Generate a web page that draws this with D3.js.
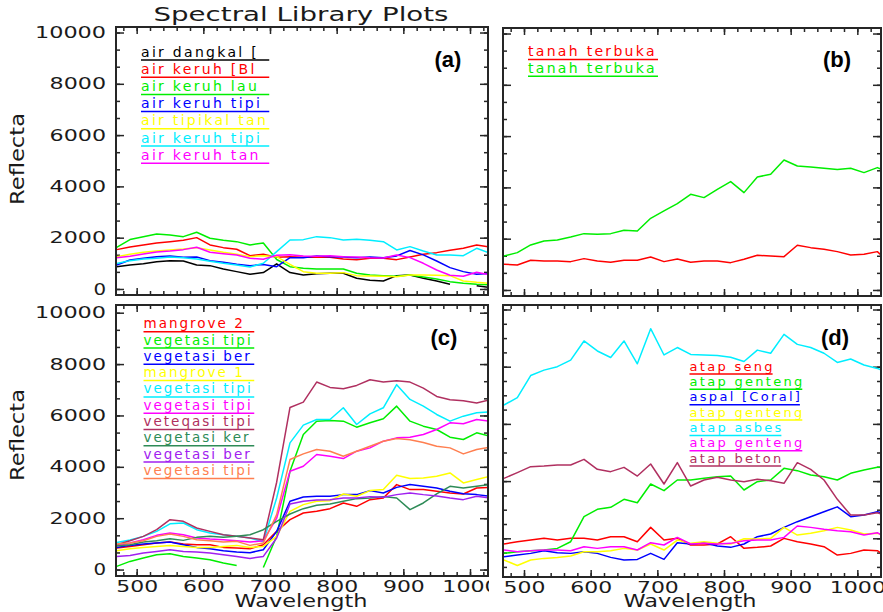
<!DOCTYPE html>
<html>
<head>
<meta charset="utf-8">
<script src="https://cdn.jsdelivr.net/npm/d3@7"></script>
<style>
  html, body { margin: 0; padding: 0; background: #fff; }
  svg { display: block; }
</style>
</head>
<body>
<div id="chart"></div>
<script>
const TITLE = 'Spectral Library Plots'

// wavelength grids (nm)
const WAVE_AC = [470, 490, 510, 530, 550, 570, 590, 610, 630, 650, 670, 690, 710, 730, 750, 770, 790, 810, 830, 850, 870, 890, 910, 930, 950, 970, 990, 1010, 1030]
const WAVE_BD = [470, 490, 510, 530, 550, 570, 590, 610, 630, 650, 670, 690, 710, 730, 750, 770, 790, 810, 830, 850, 870, 890, 910, 930, 950, 970, 990, 1010, 1030, 1040]

const X_MAJOR_TICKS = [500, 600, 700, 800, 900, 1000]
const Y_MAJOR_TICKS = [0, 2000, 4000, 6000, 8000, 10000]
const Y_MAJOR_TICKS_D = [2000, 4000, 6000, 8000, 10000]

// (a) air
const A_LABELS = ['air dangkal [', 'air keruh [Bl', 'air keruh lau', 'air keruh tipi', 'air tipikal tan', 'air keruh tipi', 'air keruh tan']
const AIR_DANGKAL = [871, 936, 988, 1066, 1105, 1092, 936, 910, 780, 676, 572, 640, 980, 640, 546, 598, 611, 611, 416, 338, 312, 520, 546, 416, 312, 182, null, 130, 52]
const AIR_KERUH_BL = [1534, 1638, 1716, 1794, 1846, 1898, 2002, 1716, 1612, 1547, 1300, 1352, 1235, 1261, 1235, 1235, 1235, 1170, 1144, 1196, 1196, 1144, 1248, 1352, 1417, 1508, 1586, 1716, 1638]
const AIR_KERUH_LAU = [1625, 1925, 2040, 2145, 2106, 2040, 2210, 1976, 1900, 1846, 1716, 1794, 1150, 870, 806, 780, 780, 780, 610, 546, 520, 494, 546, 470, 390, 286, 221, 182, 156]
const AIR_KERUH_TIPI = [936, 1131, 1196, 1261, 1287, 1235, 1248, 1105, 1040, 962, 910, 950, 871, 1222, 1222, 1287, 1261, 1248, 1222, 1248, 1222, 1290, 1500, 1330, 1092, 832, 676, 572, 610]
const AIR_TIPIKAL = [1261, 1352, 1430, 1482, 1521, 1560, 1612, 1521, 1430, 1352, 1261, 1300, 1261, 962, 676, 611, 611, 637, 520, 507, 494, 481, 546, 546, 533, 520, 312, 260, 221]
const AIR_KERUH_TIPI_2 = [996, 1105, 1170, 1196, 1248, 1222, 1170, 1079, 1001, 936, 858, 1001, 1456, 1911, 1924, 2041, 2002, 1911, 1937, 1898, 1846, 1521, 1651, 1482, 1326, 1326, 1300, 1586, 1391]
const AIR_KERUH_TAN = [1222, 1274, 1365, 1443, 1482, 1534, 1625, 1430, 1378, 1326, 1196, 1157, 1313, 1339, 1287, 1274, 1300, 1261, 1248, 1222, 1209, 1326, 1222, 1001, 741, 533, 494, 650, 546]

// (b) tanah
const B_LABELS = ['tanah terbuka', 'tanah terbuka']
const TANAH_1 = [1001, 975, 1157, 1131, 1131, 1105, 1222, 1131, 1079, 1157, 1157, 1287, 1105, 1209, 1079, 1131, 1131, 1066, 1196, 1352, 1326, 1300, 1742, 1651, 1586, 1495, 1365, 1391, 1495, 1261]
const TANAH_2 = [1326, 1456, 1755, 1911, 1950, 2067, 2197, 2171, 2197, 2327, 2301, 2795, 3081, 3367, 3731, 3601, 3926, 4225, 3796, 4407, 4511, 5070, 4836, 4797, 4745, 4693, 4745, 4576, 4771, 4667]

// (c) vegetasi
const C_LABELS = ['mangrove 2', 'vegetasi tipi', 'vegetasi ber', 'mangrove 1', 'vegetasi tipi', 'vegetasi tipi', 'veteqasi tipi', 'vegetasi ker', 'vegetasi ber', 'vegetasi tipi']
const MANGROVE_2 = [838, 900, 968, 1033, 1072, 994, 968, 968, 864, 838, 812, 968, 1488, 1943, 2203, 2268, 2372, 2593, 2463, 2723, 2788, 3308, 3113, 3113, 3048, 2983, 2944, 3178, 3204]
const VEG_TIPI_1 = [123, 318, 448, 578, 617, 513, 448, 383, 253, 162, null, 84, 1300, 3828, 5258, 5778, 5804, 5778, 5544, 5713, 5869, 6363, 5778, 5583, 5453, 5154, 5063, 5323, 5193]
const VEG_BER_1 = [864, 942, 994, 1033, 1072, 968, 864, 812, 734, 682, 656, 773, 1488, 2658, 2828, 2853, 2853, 2918, 2918, 3074, 2983, 3200, 3308, 3243, 3178, 3050, 2950, 2918, 2853]
const MANGROVE_1 = [734, 812, 864, 903, 942, 903, 864, 864, 903, 942, 864, 903, 1293, 2268, 2528, 2658, 2684, 2944, 2853, 3074, 3113, 3672, 3542, 3568, 3633, 3763, 3373, 3503, 3633]
const VEG_TIPI_2 = [1050, 1150, 1293, 1488, 1780, 1813, 1553, 1423, 1358, 1293, 1228, 1085, 2788, 4933, 5622, 5843, 5843, 6298, 5648, 6064, 6298, 7200, 6623, 6363, 6038, 5778, 5973, 6103, 6142]
const VEG_TIPI_3 = [929, 1033, 1163, 1332, 1423, 1358, 1228, 1189, 1163, 1124, 1072, 1124, 2000, 3828, 4023, 4478, 4413, 4322, 4608, 4738, 4998, 5128, 5154, 5258, 5453, 5713, 5674, 5843, 5778]
const VETEQASI_TIPI = [968, 1124, 1293, 1553, 1943, 1878, 1618, 1488, 1358, 1293, 1228, 1163, 3400, 6312, 6520, 7300, 7092, 7040, 7170, 7391, 7300, 7352, 7300, 7066, 6741, 6611, 6572, 6481, 6611]
const VEG_KER = [916, 968, 1072, 1124, 1202, 1137, 1254, 1293, 1254, 1293, 1358, 1553, 1878, 2164, 2372, 2502, 2554, 2658, 2762, 2788, 2840, 2788, 2333, 2593, 2944, 3243, 3178, 3243, 3308]
const VEG_BER_2 = [513, 552, 643, 708, 773, 708, 682, 643, 578, 513, 435, 513, 1228, 2554, 2658, 2710, 2723, 2788, 2788, 2840, 2814, 2918, 2983, 2918, 2866, 2788, 2723, 2853, 2788]
const VEG_TIPI_4 = [994, 1033, 1124, 1293, 1384, 1293, 1163, 1124, 1072, 1098, 942, 1033, 2138, 4283, 4504, 4673, 4608, 4413, 4608, 4803, 4998, 5100, 5050, 4950, 4803, 4738, 4504, 4673, 4764]

// (d) atap
const D_LABELS = ['atap seng', 'atap genteng', 'aspal [Coral]', 'atap genteng', 'atap asbes', 'atap genteng', 'atap beton']
const ATAP_SENG = [1800, 1881, 1939, 1998, 1939, 1998, 1998, 1939, 2056, 2056, 1881, 2382, 1939, 1998, 1765, 1765, 1800, 2056, 1648, 1683, 1730, 1998, 1881, 1800, 1707, 1415, 1473, 1590, 1566, 1415]
const ATAP_GENTENG_1 = [1473, 1531, 1566, 1590, 1648, 1881, 2756, 3012, 3082, 3362, 3245, 3898, 3665, 4038, 4038, 4096, 4155, 4178, 3689, 3980, 4038, 4446, 4365, 4213, 4155, 4038, 4271, 4388, 4481, 4481]
const ASPAL = [1357, 1415, 1473, 1566, 1496, 1473, 1531, 1473, 1333, 1240, 1263, 1473, 1263, 1846, 1800, 1846, 1730, 1683, 1800, 2056, 2149, 2382, 2581, 2756, 2930, 3100, 2756, 2814, 2930, 2872]
const ATAP_GENTENG_2 = [1240, 1050, 1240, 1298, 1333, 1380, 1531, 1531, 1566, 1648, 1590, 1800, 1590, 1939, 1823, 1881, 1823, 1800, 1986, 1975, 1998, 2382, 2114, 2173, 2266, 2382, 2289, 2149, 2173, 2114]
const ATAP_ASBES = [6660, 6920, 7690, 7880, 8000, 8230, 8900, 8550, 8320, 8900, 8100, 9330, 8410, 8670, 8430, 8410, 8390, 8330, 8180, 8580, 8470, 9130, 8780, 8670, 8470, 8150, 8270, 8060, 7940, 7850]
const ATAP_GENTENG_3 = [1590, 1531, 1566, 1590, 1590, 1566, 1707, 1648, 1707, 1707, 1590, 1846, 1765, 2032, 1800, 1823, 1800, 1823, 1916, 1939, 1939, 2032, 2429, 2382, 2313, 2266, 2231, 2114, 2196, 2056]
const ATAP_BETON = [4096, 4295, 4505, 4528, 4563, 4563, 4761, 4411, 4330, 4481, 4178, 4598, 3898, 4645, 3828, 4038, 4131, 4038, 3980, 4061, 4015, 3922, 4645, 4411, 4038, 3362, 2814, 2814, 2896, 2814]

// ENVI plot colour sequence
const COLORS = Object.freeze({
  BLACK: '#000000', RED: '#ff0000', GREEN: '#00ee00', BLUE: '#0000ff', YELLOW: '#ffff00',
  CYAN: '#00eeff', MAGENTA: '#ff00ff', MAROON: '#b03060', SEA_GREEN: '#2e8b57',
  PURPLE: '#a020f0', CORAL: '#ff7f50'
})
const SEQ = [COLORS.RED, COLORS.GREEN, COLORS.BLUE, COLORS.YELLOW, COLORS.CYAN, COLORS.MAGENTA,
  COLORS.MAROON, COLORS.SEA_GREEN, COLORS.PURPLE, COLORS.CORAL]

const FRAME_COLOR = '#262626',
      TEXT_COLOR = '#1a1a1a',
      FONT = "'DejaVu Sans', sans-serif",
      DIGIT_W = 14.6

const PANELS = [
  {
    key: 'a', left: 116, right: 488, top: 27, bottom: 295,
    xDomain: [469, 1027], yDomain: [-235, 10215],
    wave: WAVE_AC,
    series: [AIR_DANGKAL, AIR_KERUH_BL, AIR_KERUH_LAU, AIR_KERUH_TIPI, AIR_TIPIKAL, AIR_KERUH_TIPI_2, AIR_KERUH_TAN],
    colors: [COLORS.BLACK].concat(SEQ.slice(0, 6)),
    labels: A_LABELS,
    legend: { x: 141, y: 60, step: 17.2, right: 269.5, size: 14, spacing: 2.3 },
    tag: { x: 448, y: 67 },
    yLabels: true, xLabels: false, yTitle: { x: 24, y: 159 }
  },
  {
    key: 'b', left: 503, right: 881, top: 28, bottom: 296,
    xDomain: [468.5, 1035.5], yDomain: [-235, 10215],
    wave: WAVE_BD,
    series: [TANAH_1, TANAH_2],
    colors: SEQ.slice(0, 2),
    labels: B_LABELS,
    legend: { x: 528, y: 59.5, step: 16.8, right: 658, size: 14, spacing: 2.3 },
    tag: { x: 837, y: 67 },
    yLabels: false, xLabels: false
  },
  {
    key: 'c', left: 116, right: 488, top: 305, bottom: 576,
    xDomain: [469, 1027], yDomain: [-250, 10300],
    wave: WAVE_AC,
    series: [MANGROVE_2, VEG_TIPI_1, VEG_BER_1, MANGROVE_1, VEG_TIPI_2, VEG_TIPI_3, VETEQASI_TIPI, VEG_KER, VEG_BER_2, VEG_TIPI_4],
    colors: SEQ,
    labels: C_LABELS,
    legend: { x: 143.5, y: 331.7, step: 16.3, right: 254.5, size: 13.5, spacing: 2 },
    tag: { x: 444, y: 345 },
    yLabels: true, xLabels: true, labelClip: 489, yTitle: { x: 24, y: 435 }, xTitle: { x: 301 }
  },
  {
    key: 'd', left: 503, right: 881, top: 305, bottom: 577,
    xDomain: [468.5, 1035.5], yDomain: [647, 10157], dTicks: true,
    wave: WAVE_BD,
    series: [ATAP_SENG, ATAP_GENTENG_1, ASPAL, ATAP_GENTENG_2, ATAP_ASBES, ATAP_GENTENG_3, ATAP_BETON],
    colors: SEQ.slice(0, 7),
    labels: D_LABELS,
    legend: { x: 689.5, y: 374, step: 15.35, right: null, size: 13, spacing: 2.3 },
    tag: { x: 835, y: 345 },
    yLabels: false, xLabels: true, labelClip: 883, xTitle: { x: 690 }
  }
]

const svg = d3.select('#chart')
  .append('svg')
  .attr('width', 883)
  .attr('height', 612)

svg.append('text')
  .attr('x', 301)
  .attr('y', 21)
  .attr('text-anchor', 'middle')
  .attr('font-family', FONT)
  .attr('font-size', 19)
  .attr('fill', TEXT_COLOR)
  .attr('textLength', 295)
  .attr('lengthAdjust', 'spacingAndGlyphs')
  .text(TITLE)

const addTicks = (g, axisFn, scale, transform, values, size) => {
  g.append('g')
    .attr('transform', transform)
    .call(axisFn(scale).tickValues(values).tickSize(size).tickFormat(''))
    .call(a => a.select('.domain').remove())
    .call(a => a.selectAll('line').attr('stroke', FRAME_COLOR).attr('stroke-width', 1.5))
}

const styleDigits = sel => sel
  .attr('font-family', FONT)
  .attr('font-size', 16)
  .attr('fill', TEXT_COLOR)
  .attr('textLength', d => String(d).length * DIGIT_W - 2)
  .attr('lengthAdjust', 'spacingAndGlyphs')

const buildPanel = (p) => {
  const x = d3.scaleLinear().domain(p.xDomain).range([p.left, p.right]),
        y = d3.scaleLinear().domain(p.yDomain).range([p.bottom, p.top])
  const g = svg.append('g').attr('id', 'panel-' + p.key)

  g.append('clipPath')
    .attr('id', 'clip-' + p.key)
    .append('rect')
    .attr('x', p.left).attr('y', p.top)
    .attr('width', p.right - p.left).attr('height', p.bottom - p.top)

  const xMinor = d3.range(480, 1021, 20),
        yMinor = p.dTicks ? d3.range(1000, 10001, 500) : d3.range(0, 10001, 2000 / 3),
        yMajor = p.dTicks ? Y_MAJOR_TICKS_D : Y_MAJOR_TICKS

  // inward ticks on every side of the box
  addTicks(g, d3.axisBottom, x, `translate(0,${p.bottom})`, xMinor, -4)
  addTicks(g, d3.axisBottom, x, `translate(0,${p.bottom})`, X_MAJOR_TICKS, -7)
  addTicks(g, d3.axisTop, x, `translate(0,${p.top})`, xMinor, -4)
  addTicks(g, d3.axisTop, x, `translate(0,${p.top})`, X_MAJOR_TICKS, -7)
  addTicks(g, d3.axisLeft, y, `translate(${p.left},0)`, yMinor, -4)
  addTicks(g, d3.axisLeft, y, `translate(${p.left},0)`, yMajor, -8)
  addTicks(g, d3.axisRight, y, `translate(${p.right},0)`, yMinor, -4)
  addTicks(g, d3.axisRight, y, `translate(${p.right},0)`, yMajor, -8)

  if (p.yLabels) {
    g.append('g')
      .attr('transform', `translate(${p.left},0)`)
      .call(d3.axisLeft(y).tickValues(Y_MAJOR_TICKS).tickSize(0).tickPadding(10).tickFormat(d3.format('d')))
      .call(a => a.select('.domain').remove())
      .call(a => styleDigits(a.selectAll('text')))
    svg.append('text')
      .attr('transform', `translate(${p.yTitle.x},${p.yTitle.y}) rotate(-90)`)
      .attr('text-anchor', 'middle')
      .attr('font-family', FONT)
      .attr('font-size', 20)
      .attr('fill', TEXT_COLOR)
      .attr('textLength', 92)
      .attr('lengthAdjust', 'spacingAndGlyphs')
      .text('Reflecta')
  }

  if (p.xLabels) {
    // the clip sits on an untransformed wrapper so its rect is in page pixels
    g.append('clipPath')
      .attr('id', 'label-clip-' + p.key)
      .append('rect')
      .attr('x', p.left - 30).attr('y', p.bottom)
      .attr('width', p.labelClip - p.left + 30).attr('height', 40)
    g.append('g')
      .attr('clip-path', `url(#label-clip-${p.key})`)
      .append('g')
      .attr('transform', `translate(0,${p.bottom})`)
      .call(d3.axisBottom(x).tickValues(X_MAJOR_TICKS).tickSize(0).tickPadding(5).tickFormat(d3.format('d')))
      .call(a => a.select('.domain').remove())
      .call(a => styleDigits(a.selectAll('text')))
    svg.append('text')
      .attr('x', p.xTitle.x)
      .attr('y', 607)
      .attr('text-anchor', 'middle')
      .attr('font-family', FONT)
      .attr('font-size', 17)
      .attr('fill', TEXT_COLOR)
      .attr('textLength', 133)
      .attr('lengthAdjust', 'spacingAndGlyphs')
      .text('Wavelength')
  }

  const line = d3.line()
    .defined(d => d[1] != null)
    .x(d => x(d[0]))
    .y(d => y(d[1]))

  g.append('g')
    .attr('clip-path', `url(#clip-${p.key})`)
    .selectAll('path')
    .data(p.series)
    .join('path')
    .attr('fill', 'none')
    .attr('stroke', (d, i) => p.colors[i])
    .attr('stroke-width', 1.5)
    .attr('stroke-linejoin', 'round')
    .attr('d', s => line(p.wave.map((w, j) => [w, s[j]])))

  g.append('rect')
    .attr('x', p.left).attr('y', p.top)
    .attr('width', p.right - p.left).attr('height', p.bottom - p.top)
    .attr('fill', 'none')
    .attr('stroke', FRAME_COLOR)
    .attr('stroke-width', 2)

  // legend (names are cut off at the box edge like in ENVI)
  const lg = p.legend
  if (lg.right) {
    g.append('clipPath')
      .attr('id', 'legend-clip-' + p.key)
      .append('rect')
      .attr('x', lg.x - 2).attr('y', lg.y - 20)
      .attr('width', lg.right - lg.x + 2).attr('height', lg.step * p.labels.length + 20)
  }
  const legend = g.append('g')
    .attr('clip-path', lg.right ? `url(#legend-clip-${p.key})` : null)
  p.labels.forEach((label, i) => {
    const uy = lg.y + i * lg.step
    const t = legend.append('text')
      .attr('x', lg.x)
      .attr('y', uy - 3.5)
      .attr('font-family', FONT)
      .attr('font-size', lg.size)
      .attr('letter-spacing', lg.spacing)
      .attr('fill', p.colors[i])
      .text(label)
    const w = lg.right ? lg.right - lg.x : t.node().getComputedTextLength() - lg.spacing
    legend.append('line')
      .attr('x1', lg.x).attr('x2', lg.x + w)
      .attr('y1', uy).attr('y2', uy)
      .attr('stroke', p.colors[i])
      .attr('stroke-width', 1.5)
  })

  g.append('text')
    .attr('x', p.tag.x)
    .attr('y', p.tag.y)
    .attr('text-anchor', 'middle')
    .attr('font-family', "'Liberation Sans', Arial, sans-serif")
    .attr('font-weight', 'bold')
    .attr('font-size', 22)
    .attr('fill', '#000')
    .text(`(${p.key})`)
}

PANELS.forEach(buildPanel)
</script>
</body>
</html>
